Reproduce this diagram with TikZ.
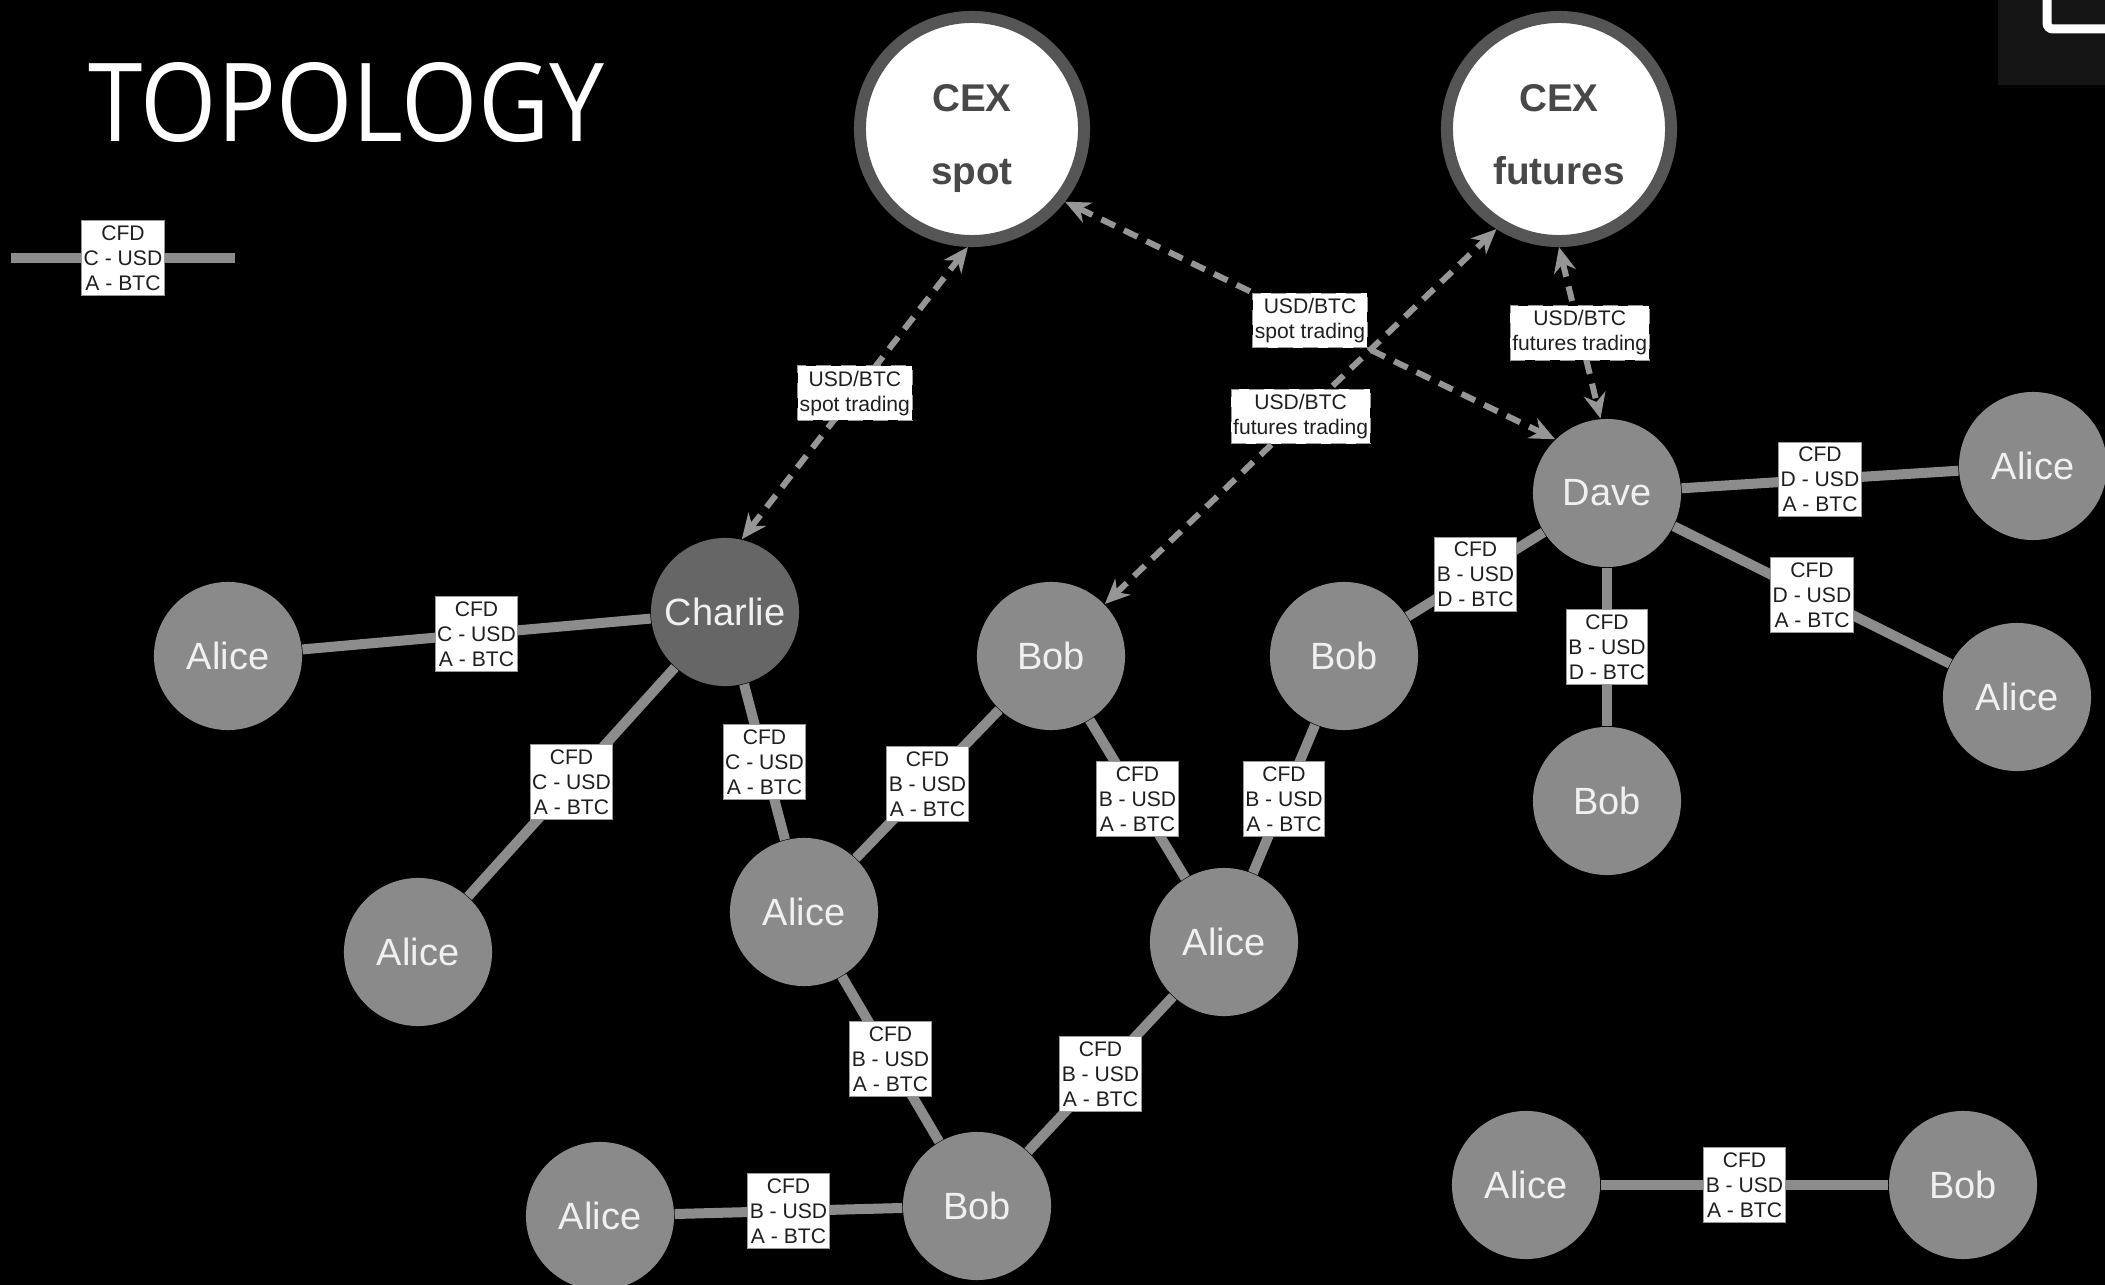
\documentclass[tikz,border=0pt]{standalone}
\usepackage{fontspec}
\setmainfont{Liberation Sans}
\newfontfamily\titlefont{Open Sans}[FakeStretch=0.9]
\usetikzlibrary{arrows.meta}

\definecolor{nodegray}{RGB}{138,138,138}
\definecolor{chargray}{RGB}{102,102,102}
\definecolor{linegray}{RGB}{140,140,140}
\definecolor{dashgray}{RGB}{150,150,150}
\definecolor{cexrim}{RGB}{85,85,85}
\definecolor{cextext}{RGB}{72,72,72}
\definecolor{cornerbox}{RGB}{20,20,20}

% two-line exchange label with fixed line heights
\newcommand{\cexname}[2]{\rule{0pt}{0.46cm}#1\\#2\rule[-0.08cm]{0pt}{0pt}}

\tikzset{
  party/.style={circle, fill=nodegray, text=white!94!black, minimum size=1.48cm,
    inner sep=0pt, font=\fontsize{10.8}{13}\selectfont},
  cex/.style={circle, fill=white, draw=cexrim, line width=0.12cm, minimum size=2.24cm,
    inner sep=0pt, align=center, text=cextext, font=\fontsize{11}{21}\selectfont\bfseries},
  cfd/.style={draw=linegray, line width=0.1cm},
  trade/.style={draw=dashgray, line width=0.06cm, dash pattern=on 0.15cm off 0.1cm,
    {Stealth[length=0.25cm,width=0.22cm,inset=0.08cm]}-{Stealth[length=0.25cm,width=0.22cm,inset=0.08cm]}},
  lbl/.style={fill=white, draw=black!40, line width=0.3pt, text=black!88,
    inner xsep=0.6pt, inner ysep=1.4pt, align=center,
    font=\fontsize{6}{7.1}\selectfont},
}

\begin{document}
\begin{tikzpicture}[x=0.01cm, y=-0.01cm]
  % Canvas
  \fill[black] (0,0) rectangle (2105,1285);
  \useasboundingbox (0,0) rectangle (2105,1285);

  % Corner button
  \fill[cornerbox] (1998,0) rectangle (2105,85);
  \draw[white, line width=0.09cm, rounded corners=0.06cm] (2047,-40) rectangle (2160,29);

  % Title
  \node[anchor=base west, inner sep=0pt, text=white, font=\titlefont\fontsize{31}{36}\selectfont]
    (title) at (88,142) {TOPOLOGY};

  % Legend
  \coordinate (legA) at (11,258);
  \coordinate (legB) at (235,258);
  \draw[cfd] (legA) -- node[lbl] {CFD\\C - USD\\A - BTC} (legB);

  % Exchanges
  \node[cex] (cexspot) at (972,129) {\cexname{CEX}{spot}};
  \node[cex] (cexfut) at (1559,129) {\cexname{CEX}{futures}};

  % Parties
  \node[party, fill=chargray] (charlie) at (725,612) {Charlie};
  \node[party] (aliceW) at (228,656) {Alice};
  \node[party] (aliceSW) at (418,952) {Alice};
  \node[party] (aliceM) at (804,912) {Alice};
  \node[party] (bobM) at (1051,656) {Bob};
  \node[party] (bobE) at (1344,656) {Bob};
  \node[party] (aliceC) at (1224,942) {Alice};
  \node[party] (bobS) at (977,1206) {Bob};
  \node[party] (aliceS) at (600,1216) {Alice};
  \node[party] (dave) at (1607,493) {Dave};
  \node[party] (aliceNE) at (2033,466) {Alice};
  \node[party] (aliceE) at (2017,697) {Alice};
  \node[party] (bobD) at (1607,801) {Bob};
  \node[party] (aliceP) at (1526,1185) {Alice};
  \node[party] (bobP) at (1963,1185) {Bob};

  % CFD contracts
  \draw[cfd] (aliceW) -- node[lbl] {CFD\\C - USD\\A - BTC} (charlie);
  \draw[cfd] (charlie) -- node[lbl] {CFD\\C - USD\\A - BTC} (aliceSW);
  \draw[cfd] (charlie) -- node[lbl] {CFD\\C - USD\\A - BTC} (aliceM);
  \draw[cfd] (aliceM) -- node[lbl] {CFD\\B - USD\\A - BTC} (bobM);
  \draw[cfd] (bobM) -- node[lbl] {CFD\\B - USD\\A - BTC} (aliceC);
  \draw[cfd] (bobE) -- node[lbl] {CFD\\B - USD\\A - BTC} (aliceC);
  \draw[cfd] (aliceM) -- node[lbl] {CFD\\B - USD\\A - BTC} (bobS);
  \draw[cfd] (aliceC) -- node[lbl] {CFD\\B - USD\\A - BTC} (bobS);
  \draw[cfd] (aliceS) -- node[lbl] {CFD\\B - USD\\A - BTC} (bobS);
  \draw[cfd] (bobE) -- node[lbl] {CFD\\B - USD\\D - BTC} (dave);
  \draw[cfd] (dave) -- node[lbl] {CFD\\B - USD\\D - BTC} (bobD);
  \draw[cfd] (dave) -- node[lbl] {CFD\\D - USD\\A - BTC} (aliceNE);
  \draw[cfd] (dave) -- node[lbl] {CFD\\D - USD\\A - BTC} (aliceE);
  \draw[cfd] (aliceP) -- node[lbl] {CFD\\B - USD\\A - BTC} (bobP);

  % Exchange trading
  \draw[trade] (charlie.77) -- node[lbl] {USD/BTC\\spot trading} (cexspot.-92);
  \draw[trade] (bobM.44) -- node[lbl] {USD/BTC\\futures trading} (cexfut.-122);
  \draw[trade] (cexspot.-38) -- node[lbl] {USD/BTC\\spot trading} (dave.134);
  \draw[trade] (cexfut.-90) -- node[lbl] {USD/BTC\\futures trading} (dave.95);
\end{tikzpicture}
\end{document}
